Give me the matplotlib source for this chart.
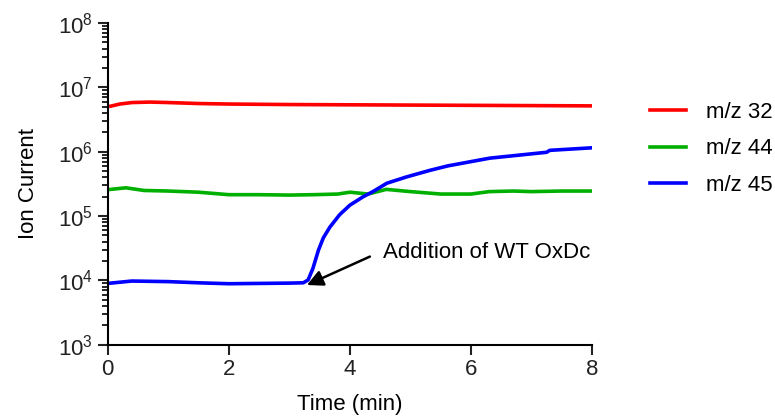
import matplotlib
matplotlib.use('Agg')
import matplotlib.pyplot as plt
from matplotlib.ticker import LogLocator, NullFormatter

plt.rcParams['font.family'] = ['Liberation Sans', 'DejaVu Sans']
plt.rcParams['mathtext.fontset'] = 'custom'
plt.rcParams['mathtext.rm'] = 'Liberation Sans'
plt.rcParams['mathtext.it'] = 'Liberation Sans:italic'

# data (time in min, ion current)
t_32 = [0.05, 0.2, 0.4, 0.7, 1.0, 1.5, 2.0, 3.0, 4.0, 5.0, 6.0, 7.0, 8.0]
mz32 = [5.1e6, 5.5e6, 5.8e6, 5.9e6, 5.8e6, 5.6e6, 5.5e6, 5.4e6, 5.35e6, 5.3e6, 5.25e6, 5.2e6, 5.15e6]

t_44 = [0.05, 0.3, 0.6, 1.0, 1.5, 2.0, 2.5, 3.0, 3.4, 3.8, 4.0, 4.3, 4.6, 5.0, 5.5,
        6.0, 6.3, 6.7, 7.0, 7.5, 8.0]
mz44 = [2.6e5, 2.75e5, 2.5e5, 2.45e5, 2.35e5, 2.15e5, 2.15e5, 2.12e5, 2.15e5, 2.2e5,
        2.35e5, 2.2e5, 2.6e5, 2.4e5, 2.2e5, 2.2e5, 2.4e5, 2.45e5, 2.4e5, 2.45e5, 2.45e5]

t_45 = [0.05, 0.4, 1.0, 1.5, 2.0, 2.5, 3.0, 3.23, 3.31, 3.39, 3.48, 3.56, 3.67, 3.83,
        4.0, 4.22, 4.38, 4.61, 4.94, 5.32, 5.62, 6.31, 7.25, 7.3, 8.0]
mz45 = [9.1e3, 9.8e3, 9.6e3, 9.2e3, 8.9e3, 9.0e3, 9.1e3, 9.2e3, 1.02e4, 1.55e4, 2.95e4,
        4.57e4, 6.76e4, 1.05e5, 1.48e5, 2.0e5, 2.4e5, 3.24e5, 4.07e5, 5.13e5, 6.03e5,
        7.94e5, 9.8e5, 1.05e6, 1.15e6]

labels = ['m/z 32', 'm/z 44', 'm/z 45']
colors = ['#ff0000', '#00b000', '#0000ff']

fig = plt.figure(figsize=(7.75, 4.17), dpi=100)
ax = fig.add_axes([0.139, 0.173, 0.625, 0.772])

ax.plot(t_32, mz32, color=colors[0], lw=2.6, label=labels[0])
ax.plot(t_44, mz44, color=colors[1], lw=2.6, label=labels[1])
ax.plot(t_45, mz45, color=colors[2], lw=2.6, label=labels[2])

ax.set_yscale('log')
ax.set_xlim(0, 8)
ax.set_ylim(1e3, 1e8)
ax.set_xticks([0, 2, 4, 6, 8])
ax.yaxis.set_major_locator(LogLocator(base=10, numticks=10))
ax.yaxis.set_minor_locator(LogLocator(base=10, subs=range(2, 10), numticks=20))
ax.yaxis.set_minor_formatter(NullFormatter())

for s in ['top', 'right']:
    ax.spines[s].set_visible(False)
for s in ['left', 'bottom']:
    ax.spines[s].set_linewidth(1.5)
ax.tick_params(which='major', length=7, width=1.5, labelsize=16, colors='#222222')
ax.tick_params(which='minor', length=4, width=1.2)

ax.set_xlabel('Time (min)', fontsize=16, labelpad=10)
ax.set_ylabel('Ion Current', fontsize=16, labelpad=14)

# arrow and its label
ax.annotate('', xy=(3.29, 8.5e3), xytext=(4.33, 2.35e4),
            arrowprops=dict(arrowstyle='-|>', color='black', lw=1.8,
                            mutation_scale=24, shrinkA=0, shrinkB=0))
ax.text(4.55, 2.7e4, 'Addition of WT OxDc', fontsize=16, va='center', ha='left')

fig.legend(loc='center left', bbox_to_anchor=(0.8135, 0.643), frameon=False,
           fontsize=16, handlelength=1.6, labelspacing=0.7, handletextpad=0.9)

fig.savefig('out.png', dpi=100)
